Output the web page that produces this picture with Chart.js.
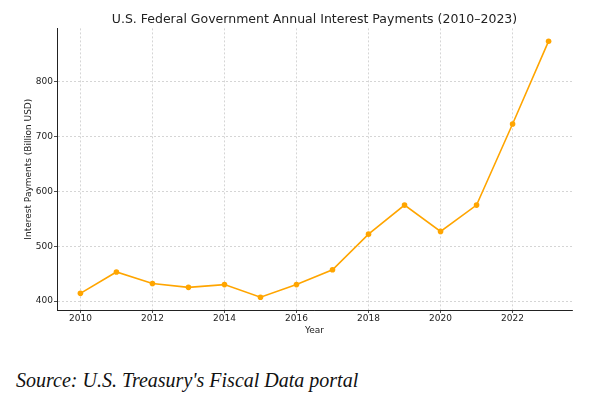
<!DOCTYPE html>
<html>
<head>
<meta charset="utf-8">
<script src="https://cdn.jsdelivr.net/npm/chart.js@4/dist/chart.umd.min.js"></script>
<style>
  body { margin: 0; background: #fff; }
  #wrap { position: relative; width: 608px; height: 399px; }
  #box { position: absolute; left: 0; top: 0; width: 608px; height: 345px; }
  #source {
    position: absolute; left: 16px; top: 370px;
    font-family: "Liberation Serif", "DejaVu Serif", serif;
    font-style: italic; font-size: 20px; line-height: 20px; color: #111;
    white-space: nowrap;
  }
</style>
</head>
<body>
<div id="wrap">
  <div id="box"><canvas id="myChart"></canvas></div>
  <div id="source">Source: U.S. Treasury's Fiscal Data portal</div>
</div>
<script>
// data
var years = [2010, 2011, 2012, 2013, 2014, 2015, 2016, 2017, 2018, 2019, 2020, 2021, 2022, 2023];
var payments = [414, 453, 432, 425, 430, 407, 430, 457, 522, 575, 527, 575, 723, 874];
var yearTicks = [2010, 2012, 2014, 2016, 2018, 2020, 2022];
var paymentTicks = [400, 500, 600, 700, 800];

var ink = '#222';
var gridColor = '#c4c4c4';

// matplotlib style 5% margins round the data
var xPad = (years[years.length - 1] - years[0]) * 0.05;
var yMin = Math.min.apply(null, payments), yMax = Math.max.apply(null, payments);
var yPad = (yMax - yMin) * 0.05;

var points = years.map(function (y, i) { return {x: y, y: payments[i]}; });

var ctx = document.getElementById("myChart").getContext('2d');
var myChart = new Chart(ctx, {
    type: 'line',
    data: {
        datasets: [{
            label: 'Interest Payments',
            data: points,
            borderColor: '#FFA500',
            backgroundColor: '#FFA500',
            borderWidth: 1.6,
            pointRadius: 2.8,
            pointBorderWidth: 0,
            pointHoverRadius: 2.8,
            tension: 0
        }]
    },
    options: {
        responsive: true,
        maintainAspectRatio: false,
        animation: false,
        layout: { padding: {left: 0, right: 36, top: 0, bottom: 0} },
        plugins: {
            legend: { display: false },
            tooltip: { enabled: false },
            title: {
                display: true,
                fullSize: false, // centre over the plot area
                text: 'U.S. Federal Government Annual Interest Payments (2010–2023)',
                color: ink,
                font: { family: 'DejaVu Sans', size: 12.5, weight: 'normal', lineHeight: 1.15 },
                padding: { top: 13, bottom: 1 }
            }
        },
        scales: {
            x: {
                type: 'linear',
                min: years[0] - xPad,
                max: years[years.length - 1] + xPad,
                afterBuildTicks: function (s) { s.ticks = yearTicks.map(function (v) { return {value: v}; }); },
                afterFit: function (s) { s.height = 35; },
                ticks: {
                    color: ink, padding: 0, maxRotation: 0,
                    font: { family: 'DejaVu Sans', size: 9 },
                    callback: function (v) { return String(v); }
                },
                grid: {
                    color: gridColor, lineWidth: 0.7,
                    tickLength: 3, tickColor: ink, tickWidth: 0.8, tickBorderDash: []
                },
                border: { display: true, color: ink, width: 1, dash: [2, 2] },
                title: {
                    display: true, text: 'Year', color: ink, padding: 9,
                    font: { family: 'DejaVu Sans', size: 9 }
                }
            },
            y: {
                min: yMin - yPad,
                max: yMax + yPad,
                afterBuildTicks: function (s) { s.ticks = paymentTicks.map(function (v) { return {value: v}; }); },
                afterFit: function (s) { s.width = 57; },
                ticks: {
                    color: ink, padding: 1,
                    font: { family: 'DejaVu Sans', size: 9 },
                    callback: function (v) { return String(v); }
                },
                grid: {
                    color: gridColor, lineWidth: 0.7,
                    tickLength: 3, tickColor: ink, tickWidth: 0.8, tickBorderDash: []
                },
                border: { display: true, color: ink, width: 1, dash: [2, 2] },
                title: {
                    display: true, text: 'Interest Payments (Billion USD)', color: ink, padding: 23,
                    font: { family: 'DejaVu Sans', size: 9 }
                }
            }
        }
    }
});
</script>
</body>
</html>
